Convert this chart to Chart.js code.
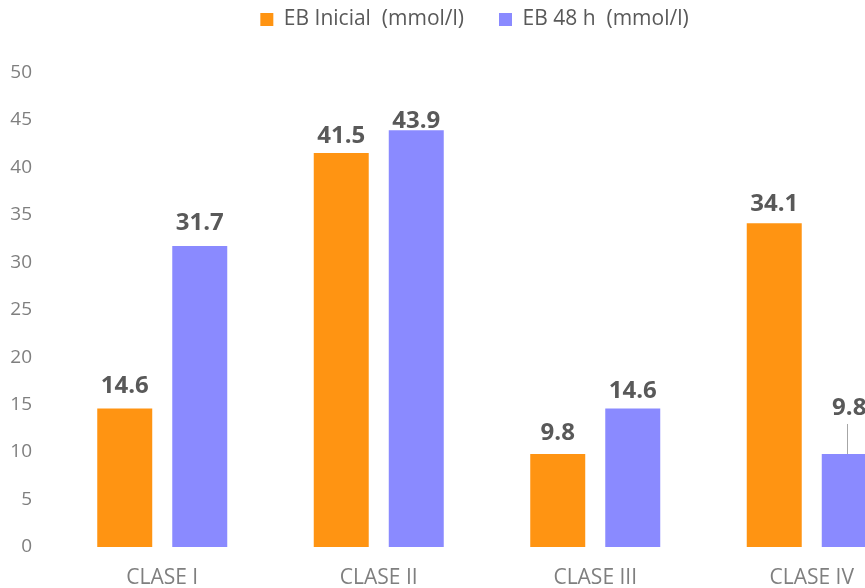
<!DOCTYPE html>
<html>
<head>
<meta charset="utf-8">
<script src="https://cdn.jsdelivr.net/npm/chart.js@4/dist/chart.umd.min.js"></script>
<style>
  html, body { margin: 0; padding: 0; background: #fff; overflow: hidden; }
  #wrap { width: 980px; height: 588px; }
</style>
</head>
<body>
<div id="wrap"><canvas id="chart" width="980" height="588"></canvas></div>
<script>
// Categories and the two series (mmol/l)
const categories = ['CLASE I', 'CLASE II', 'CLASE III', 'CLASE IV'];
const ebInicial = [14.6, 41.5, 9.8, 34.1];
const eb48h = [31.7, 43.9, 14.6, 9.8];
const seriesNames = ['EB Inicial  (mmol/l)', 'EB 48 h  (mmol/l)'];
const yTicks = [0, 5, 10, 15, 20, 25, 30, 35, 40, 45, 50];

const ORANGE = '#FF9412';
const BLUE = '#8A8AFF';
const FONT = '"Open Sans", "Liberation Sans", sans-serif';

// Value labels above each bar. Each label keeps its own distance (px) from the
// bar top; the last blue one is lifted further and joined to its bar by a line.
const valueLabels = {
  id: 'valueLabels',
  afterDatasetsDraw(chart, args, opts) {
    const ctx = chart.ctx;
    ctx.save();
    ctx.font = 'bold ' + opts.size + 'px ' + FONT;
    ctx.fillStyle = opts.color;
    ctx.textAlign = 'center';
    ctx.textBaseline = 'alphabetic';
    chart.data.datasets.forEach((ds, di) => {
      const meta = chart.getDatasetMeta(di);
      meta.data.forEach((bar, i) => {
        const gap = opts.gaps[di][i];
        const y = bar.y - gap;
        if (gap > opts.leaderFrom) {
          ctx.strokeStyle = opts.leaderColor;
          ctx.lineWidth = 1;
          ctx.beginPath();
          ctx.moveTo(Math.round(bar.x) - 1.5, y + 9);
          ctx.lineTo(Math.round(bar.x) - 1.5, bar.y);
          ctx.stroke();
        }
        ctx.fillText(ds.data[i].toFixed(1), bar.x, y);
      });
    });
    ctx.restore();
  }
};

new Chart(document.getElementById('chart'), {
  type: 'bar',
  data: {
    labels: categories,
    datasets: [
      { label: seriesNames[0], data: ebInicial, backgroundColor: ORANGE },
      { label: seriesNames[1], data: eb48h, backgroundColor: BLUE }
    ]
  },
  options: {
    responsive: false,
    animation: false,
    devicePixelRatio: 1,
    categoryPercentage: 0.693,
    barPercentage: 0.733,
    layout: { padding: { top: -26, left: 8, right: 39, bottom: 0 } },
    plugins: {
      tooltip: { enabled: false },
      legend: {
        position: 'top',
        labels: {
          boxWidth: 13,
          boxHeight: 13,
          padding: 35,
          color: '#595959',
          font: { family: FONT, size: 21 }
        }
      },
      title: {
        display: true,
        text: '',
        weight: 500,
        padding: { top: 0, bottom: 18 },
        font: { size: 12 }
      },
      valueLabels: {
        size: 24,
        color: '#595959',
        gaps: [
          [15, 10.5, 13.5, 12.5],
          [16, 2.5, 10.5, 39]
        ],
        leaderFrom: 30,
        leaderColor: '#A6A6A6'
      }
    },
    scales: {
      x: {
        grid: { display: false },
        border: { display: false },
        ticks: { color: '#7F7F7F', padding: 10, font: { family: FONT, size: 21 } },
        afterFit(scale) { scale.height = 41; }
      },
      y: {
        min: 0,
        max: 50,
        grid: { display: false },
        border: { display: false },
        afterBuildTicks(scale) { scale.ticks = yTicks.map(v => ({ value: v })); },
        ticks: { color: '#7F7F7F', padding: 14, font: { family: FONT, size: 19 } },
        afterFit(scale) { scale.width = 46; }
      },
      // empty margin on the right of the plot
      yRight: {
        type: 'linear',
        position: 'right',
        grid: { display: false },
        border: { display: false },
        ticks: { display: false },
        afterFit(scale) { scale.width = 21; }
      }
    }
  },
  plugins: [valueLabels]
});
</script>
</body>
</html>
